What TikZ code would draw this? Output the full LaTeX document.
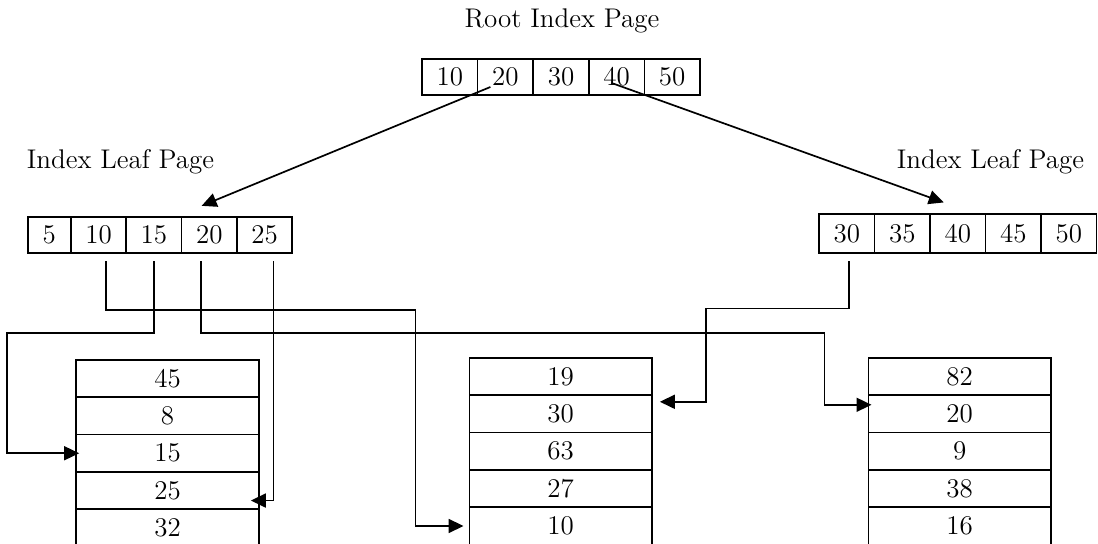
\documentclass[tikz,border=0pt]{standalone}
\usetikzlibrary{arrows.meta,calc}

\begin{document}
\begin{tikzpicture}[x=0.5pt, y=-0.5pt,
                    line width=0.85pt,
                    font=\fontsize{13.5}{15}\selectfont]
    \tikzstyle{cell}=[draw, rectangle, inner sep=0pt, minimum height=18pt, minimum width=27.8pt]
    \tikzstyle{slot}=[cell, minimum width=91.3pt, minimum height=18.7pt]
    \tikzstyle{link}=[-{Triangle[length=7.5pt,width=7pt]}]

    \useasboundingbox (0,0) rectangle (1098,544);

    % root page and the two leaf pages
    \node (roottitle) at (562,21) {Root Index Page};
    \foreach \v [count=\i] in {10,20,30,40,50}
        \node[cell] (root\v) at ({422+55.6*(\i-0.5)},77) {\v};

    \node (leaftitleA) at (120.5,162) {Index Leaf Page};
    \node[cell, minimum width=21.65pt, minimum height=18.3pt] (leafA5) at (49.35,235) {5};
    \foreach \v [count=\i] in {10,15,20,25}
        \node[cell, minimum width=27.65pt, minimum height=18.3pt] (leafA\v) at ({71+55.3*(\i-0.5)},235) {\v};

    \node (leaftitleB) at (990.5,162) {Index Leaf Page};
    \foreach \v [count=\i] in {30,35,40,45,50}
        \node[cell, minimum width=27.75pt, minimum height=19.2pt] (leafB\v) at ({819+55.5*(\i-0.5)},233.5) {\v};

    % data pages
    \foreach \v [count=\i] in {45,8,15,25,32}
        \node[slot, minimum width=91.5pt, minimum height=18.65pt] (pageA\i) at (167.5,{360+37.3*(\i-0.5)}) {\v};
    \foreach \v [count=\i] in {19,30,63,27,10}
        \node[slot] (pageB\i) at (560.7,{357.7+37.4*(\i-0.5)}) {\v};
    \foreach \v [count=\i] in {82,20,9,38,16}
        \node[slot] (pageC\i) at (959.65,{357.7+37.4*(\i-0.5)}) {\v};

    % root to leaves
    \draw[link] ($(root20)+(-15,10)$) -- ($(leafA20.north)+(-7.6,-10)$);
    \draw[link] ($(root40)+(-5,6)$) -- ($(leafB40.north)+(-14,-11)$);

    % leaves to data rows
    \draw[link] ($(leafA10.south)+(7,7)$) -- ++(0,49) -| ($(pageB5.west)+(-53,0)$) -- ($(pageB5.west)+(-5,0)$);
    \draw[link] ($(leafA15.south)+(0,7)$) -- ++(0,72) -| ($(pageA3.west)+(-68,0)$) -- ($(pageA3.west)+(4,0)$);
    \draw[link] ($(leafA20.south)+(-8,7)$) -- ++(0,72) -| ($(pageC2.west)+(-43,-9)$) -- ($(pageC2.west)+(4,-9)$);
    \draw[link] ($(leafA25.south)+(9,7)$) |- ($(pageA4.east)+(-9,10)$);
    \draw[link] ($(leafB30.south)+(2.5,7.5)$) -- ++(0,47.6) -| ($(pageB2.east)+(53,-12)$) -- ($(pageB2.east)+(7,-12)$);
\end{tikzpicture}
\end{document}
